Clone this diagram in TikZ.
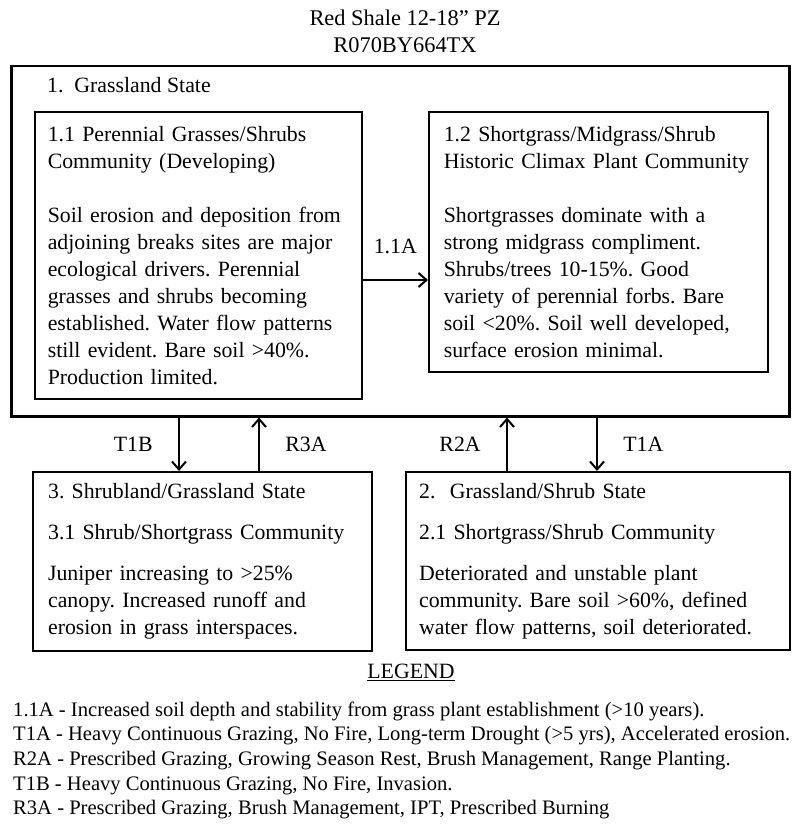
\documentclass[tikz,border=0pt]{standalone}
\usepackage{fontspec}
\setmainfont{Liberation Serif}
\usetikzlibrary{arrows.meta,positioning}
\frenchspacing
\tikzset{
  statebox/.style={draw, line width=2.5pt, anchor=north west, inner sep=0pt},
  commbox/.style={draw, line width=1.6pt, anchor=north west, align=left, inner ysep=0pt},
  trans/.style={-{Straight Barb[length=8pt,width=14pt,line width=2pt]}, line width=2pt},
  txt/.style={anchor=base west, inner sep=0pt},
  legtxt/.style={txt, font=\fontsize{20.6}{25}\selectfont},
}
\begin{document}
\begin{tikzpicture}[x=1pt, y=-1pt, font=\fontsize{21.8}{27}\selectfont]
  \useasboundingbox (0,0) rectangle (800,837);
  % title
  \node (title) at (405,18) {\fontsize{22.4}{27}\selectfont Red Shale 12-18” PZ};
  \node (code) at (405,45) {\fontsize{22.4}{27}\selectfont R070BY664TX};
  % state 1
  \node[statebox, minimum width=778pt, minimum height=350pt] (s1) at (10,65) {};
  \node[txt] (s1lbl) at (47,93) {1.\ \ Grassland State};
  \node[commbox, inner xsep=13pt, text width=301pt, minimum height=287pt] (b11) at (34,111)
    {1.1 Perennial Grasses/Shrubs\\ Community (Developing)\\[27pt]
     Soil erosion and deposition from\\ adjoining breaks sites are major\\
     ecological drivers. Perennial\\ grasses and shrubs becoming\\
     established. Water flow patterns\\ still evident. Bare soil >40\%.\\
     Production limited.};
  \node[commbox, inner xsep=15pt, text width=309pt, minimum height=260pt] (b12) at (428,111)
    {1.2 Shortgrass/Midgrass/Shrub\\ Historic Climax Plant Community\\[27pt]
     Shortgrasses dominate with a\\ strong midgrass compliment.\\
     Shrubs/trees 10-15\%. Good\\ variety of perennial forbs. Bare\\
     soil <20\%. Soil well developed,\\ surface erosion minimal.};
  % states 3 and 2
  \node[commbox, line width=2.2pt, inner xsep=15pt, text width=309pt, minimum height=179pt] (b3) at (32,471)
    {3. Shrubland/Grassland State\\[14pt]
     3.1 Shrub/Shortgrass Community\\[14pt]
     Juniper increasing to >25\%\\ canopy. Increased runoff and\\
     erosion in grass interspaces.};
  \node[commbox, line width=2.2pt, inner xsep=13pt, text width=358pt, minimum height=178pt] (b2) at (405,471)
    {2.\ \ Grassland/Shrub State\\[14pt]
     2.1 Shortgrass/Shrub Community\\[14pt]
     Deteriorated and unstable plant\\ community. Bare soil >60\%, defined\\
     water flow patterns, soil deteriorated.};
  % transitions
  \coordinate (a11) at (0,280);
  \draw[trans] (b11.east |- a11) -- (b12.west |- a11) node[midway, above=22pt] {1.1A};
  \coordinate (t1b) at (179,0);
  \coordinate (r3a) at (259,0);
  \coordinate (r2a) at (507,0);
  \coordinate (t1a) at (597,0);
  \draw[trans] (s1.south -| t1b) -- (b3.north -| t1b) node[midway, left=22pt] {T1B};
  \draw[trans] (b3.north -| r3a) -- (s1.south -| r3a) node[midway, right=22pt] {R3A};
  \draw[trans] (b2.north -| r2a) -- (s1.south -| r2a) node[midway, left=22pt] {R2A};
  \draw[trans] (s1.south -| t1a) -- (b2.north -| t1a) node[midway, right=22pt] {T1A};
  % legend
  \node (leg) at (411,672) {\underline{LEGEND}};
  \node[legtxt] (l1) at (13,716) {1.1A - Increased soil depth and stability from grass plant establishment (>10 years).};
  \node[legtxt] (l2) at (13,740) {T1A - Heavy Continuous Grazing, No Fire, Long-term Drought (>5 yrs), Accelerated erosion.};
  \node[legtxt] (l3) at (13,765) {R2A - Prescribed Grazing, Growing Season Rest, Brush Management, Range Planting.};
  \node[legtxt] (l4) at (13,790) {T1B - Heavy Continuous Grazing, No Fire, Invasion.};
  \node[legtxt] (l5) at (13,814) {R3A - Prescribed Grazing, Brush Management, IPT, Prescribed Burning};
\end{tikzpicture}
\end{document}
